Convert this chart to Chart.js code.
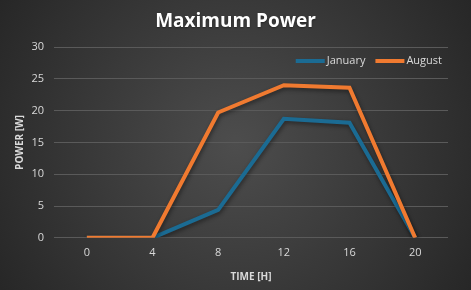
<!DOCTYPE html>
<html><head><meta charset="utf-8">
<script src="https://cdn.jsdelivr.net/npm/chart.js@4/dist/chart.umd.min.js"></script>
<style>html,body{margin:0;padding:0;background:#333;}#wrap{width:471px;height:290px;position:relative;}</style>
</head><body><div id="wrap"><canvas id="c" width="471" height="290"></canvas></div>
<script>
const chartTitle = 'Maximum Power';
const categories = ['0','4','8','12','16','20'];
const january = [0, 0, 4.4, 18.7, 18.1, 0];
const august = [0, 0, 19.7, 24.0, 23.6, 0];
const yTicks = [0, 5, 10, 15, 20, 25, 30];

const tickColor = '#d9d9d9';
const fontFam = '"Open Sans", "Liberation Sans", sans-serif';

const bgPlugin = {
  id: 'bg',
  beforeDraw(chart) {
    const ctx = chart.ctx, w = chart.width, h = chart.height;
    ctx.save();
    const g = ctx.createRadialGradient(w/2, h/2, 0, w/2, h/2, w*0.6);
    g.addColorStop(0, '#4d4d4d');
    g.addColorStop(1, '#262626');
    ctx.fillStyle = g;
    ctx.fillRect(0, 0, w, h);
    ctx.restore();
  }
};
const shadowPlugin = {
  id: 'shadow',
  beforeDatasetDraw(chart) {
    chart.ctx.save();
    chart.ctx.shadowColor = 'rgba(0,0,0,0.45)';
    chart.ctx.shadowBlur = 4;
    chart.ctx.shadowOffsetX = 1;
    chart.ctx.shadowOffsetY = 2;
  },
  afterDatasetDraw(chart) { chart.ctx.restore(); }
};
// title centred on the whole canvas
const centeredTitle = {
  id: 'centeredTitle',
  afterDraw(chart) {
    const ctx = chart.ctx;
    ctx.save();
    ctx.font = 'bold 19px ' + fontFam;
    ctx.fillStyle = '#ffffff';
    ctx.textAlign = 'center';
    ctx.textBaseline = 'alphabetic';
    ctx.shadowColor = 'rgba(0,0,0,0.4)';
    ctx.shadowBlur = 2;
    ctx.shadowOffsetY = 1;
    ctx.fillText(chartTitle, chart.width / 2, 27);
    ctx.restore();
  }
};
// legend drawn inside the plot area, top-right
const innerLegend = {
  id: 'innerLegend',
  afterDraw(chart) {
    const ctx = chart.ctx;
    const ca = chart.chartArea;
    ctx.save();
    ctx.font = '11px ' + fontFam;
    ctx.textBaseline = 'middle';
    const lineW = 29, gap = 2, itemGap = 10;
    const y = ca.top + 14;
    const items = chart.data.datasets.map(d => ({ label: d.label, color: d.borderColor, tw: ctx.measureText(d.label).width }));
    let total = items.reduce((a, it) => a + lineW + gap + it.tw, 0) + itemGap * (items.length - 1);
    let x = ca.right - 6 - total;
    items.forEach(it => {
      ctx.fillStyle = it.color;
      ctx.fillRect(x, y - 2, lineW, 4);
      x += lineW + gap;
      ctx.fillStyle = tickColor;
      ctx.fillText(it.label, x, y);
      x += it.tw + itemGap;
    });
    ctx.restore();
  }
};

new Chart(document.getElementById('c'), {
  type: 'line',
  data: {
    labels: categories,
    datasets: [
      { label: 'January', data: january, borderColor: '#1b6b93', backgroundColor: '#1b6b93', borderWidth: 4, pointRadius: 0, tension: 0, order: 1 },
      { label: 'August', data: august, borderColor: '#f07a30', backgroundColor: '#f07a30', borderWidth: 4, pointRadius: 0, tension: 0, order: 0 }
    ]
  },
  options: {
    responsive: false,
    animation: false,
    layout: { padding: { left: 10, right: 23, top: 47, bottom: 3 } },
    plugins: {
      title: { display: false },
      legend: { display: false },
      tooltip: { enabled: false }
    },
    scales: {
      x: {
        offset: true,
        grid: { display: false, drawTicks: false },
        border: { display: false },
        ticks: { color: tickColor, font: { family: fontFam, size: 11 }, padding: 8 },
        title: { display: true, text: 'TIME [H]', color: tickColor, font: { family: fontFam, size: 10, weight: 'bold' }, padding: { top: 4 } }
      },
      y: {
        min: 0, max: 30,
        afterBuildTicks(s) { s.ticks = yTicks.map(v => ({ value: v })); },
        afterFit(s) { s.width = 44; },
        grid: { color: '#5a5a5a', lineWidth: 1, drawTicks: false },
        border: { display: false },
        ticks: { color: tickColor, font: { family: fontFam, size: 11 }, padding: 10 },
        title: { display: true, text: 'POWER [W]', color: tickColor, font: { family: fontFam, size: 10, weight: 'bold' }, padding: { bottom: 2 } }
      }
    }
  },
  plugins: [bgPlugin, shadowPlugin, centeredTitle, innerLegend]
});
</script></body></html>
